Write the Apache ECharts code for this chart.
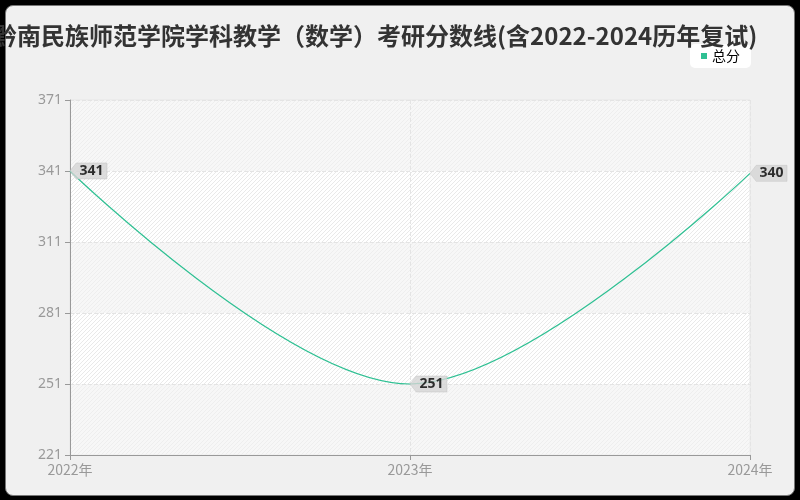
<!DOCTYPE html>
<html><head><meta charset="utf-8">
<script src="https://cdn.jsdelivr.net/npm/echarts@6/dist/echarts.min.js"></script>
<style>
html,body{margin:0;padding:0;background:#000;width:800px;height:500px;overflow:hidden;}
#frame{position:absolute;left:5px;top:5px;width:788px;height:489px;background:#f0f0f0;border:1px solid #777;border-radius:8px;}
#chart{position:absolute;left:0;top:0;width:800px;height:500px;}
</style></head>
<body><div id="frame"></div><div id="chart"></div>
<script>
const titleText = '黔南民族师范学院学科教学（数学）考研分数线(含2022-2024历年复试)';
const seriesName = '总分';
const categories = ['2022年', '2023年', '2024年'];
const totalScores = [341, 251, 340];
const yTicks = [221, 251, 281, 311, 341, 371];

const pc = document.createElement('canvas');
pc.width = 4; pc.height = 4;
const g = pc.getContext('2d');
g.fillStyle = '#ffffff'; g.fillRect(0,0,4,4);
g.strokeStyle = '#e9e9e9'; g.lineWidth = 1;
g.beginPath(); g.moveTo(-1,5); g.lineTo(5,-1); g.stroke();
g.beginPath(); g.moveTo(3,5); g.lineTo(5,3); g.stroke();
g.beginPath(); g.moveTo(-1,1); g.lineTo(1,-1); g.stroke();

const chart = echarts.init(document.getElementById('chart'), null, {renderer:'canvas'});
chart.setOption({
  backgroundColor: 'transparent',
  title: {text: titleText, left: -12, top: 19, textStyle:{fontFamily:'Noto Sans CJK SC', fontSize:24, fontWeight:'bold', color:'#333'}},
  legend: {data:[seriesName], right: 49, top: 44, backgroundColor:'#fff', borderRadius:5, padding:[5,11,5,11], icon:'rect', itemWidth:6, itemHeight:6, itemGap:5, textStyle:{fontFamily:'Noto Sans CJK SC', fontSize:14, color:'#000'}},
  grid: {left:70, right:50, top:100, bottom:45, show:true, borderColor:'#e6e6e6', borderWidth:1, backgroundColor:{image: pc, repeat:'repeat'}},
  xAxis: {type:'category', data:categories, boundaryGap:false,
    axisLine:{lineStyle:{color:'#999'}}, axisTick:{show:true, lineStyle:{color:'#999'}},
    axisLabel:{color:'#999', fontSize:14, fontFamily:'Noto Sans CJK SC'},
    splitLine:{show:true, lineStyle:{type:'dashed', color:'#e4e4e4'}}},
  yAxis: {type:'value', min:yTicks[0], max:yTicks[yTicks.length-1], interval:30,
    axisLine:{show:true, lineStyle:{color:'#999'}}, axisTick:{show:true, lineStyle:{color:'#999'}},
    axisLabel:{color:'#999', fontSize:14, fontFamily:'Noto Sans'},
    splitLine:{show:true, lineStyle:{type:'dashed', color:'#e4e4e4'}},
    splitArea:{show:true, areaStyle:{color:['rgba(242,242,242,0.6)','rgba(255,255,255,0)']}}},
  series: [
    {name:seriesName, type:'line', data:totalScores, smooth:0.35, showSymbol:false, symbol:'rect',
     itemStyle:{color:'#2fc093'}, lineStyle:{color:'#2fc093', width:1.2}},
    {name:'tag', type:'scatter', data:totalScores, z:5,
     symbol:'path://M0,7.5 L6,0 L36,0 L36,15 L6,15 Z', symbolSize:[37,16], symbolOffset:[18.5,0],
     itemStyle:{color:'#d4d4d4', borderColor:'#c0c0c0', borderWidth:0.5},
     label:{show:true, position:'inside', offset:[3,0], color:'#000', fontWeight:'bold', fontSize:14, fontFamily:'Noto Sans', formatter: p => String(p.value)},
     emphasis:{disabled:true}, tooltip:{show:false}}
  ]
});
</script></body></html>
